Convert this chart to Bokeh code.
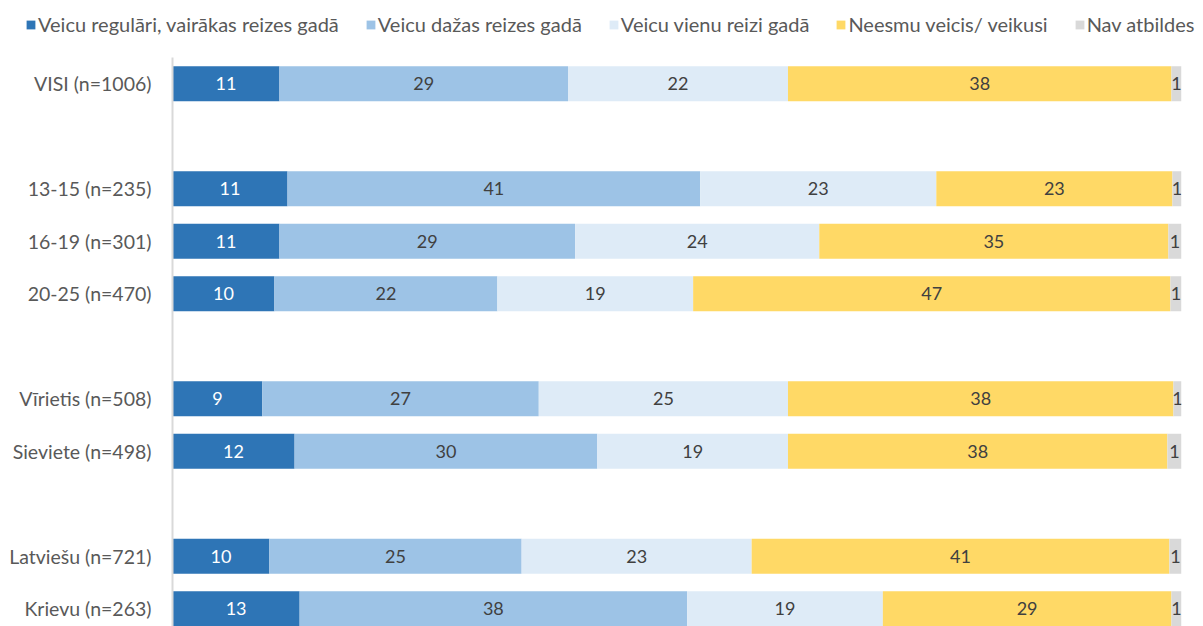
from bokeh.plotting import figure
from bokeh.models import ColumnDataSource, Range1d, Legend, LegendItem, FixedTicker
from bokeh.layouts import column
from bokeh.core.properties import value
from bokeh.embed import file_html
from bokeh.resources import INLINE
import numpy as np

categories = ["VISI (n=1006)", "13-15 (n=235)", "16-19 (n=301)", "20-25 (n=470)",
              "Vīrietis (n=508)", "Sieviete (n=498)", "Latviešu (n=721)", "Krievu (n=263)"]
series_names = ["Veicu regulāri, vairākas reizes gadā", "Veicu dažas reizes gadā",
                "Veicu vienu reizi gadā", "Neesmu veicis/ veikusi", "Nav atbildes"]
regulari = [10.6, 11.4, 10.6, 10.1, 8.9, 12.1, 9.6, 12.6]
dazas = [28.6, 40.9, 29.3, 22.1, 27.4, 30.0, 25.0, 38.4]
vienu = [21.8, 23.4, 24.2, 19.4, 24.7, 18.9, 22.8, 19.4]
neesmu = [38.0, 23.4, 34.6, 47.3, 38.2, 37.6, 41.4, 28.6]
nav = [1.0, 0.9, 1.3, 1.1, 0.8, 1.4, 1.2, 1.0]

colors = ["#2E75B6", "#9DC3E6", "#DEEBF7", "#FFD966", "#D9D9D9"]
label_colors = ["#FFFFFF", "#404040", "#404040", "#404040", "#404040"]
slots = [0, 2, 3, 4, 6, 7, 9, 10]

FONT = "Lato"
W = 1198

# ---- legend strip ----
pl = figure(width=W, height=57, x_range=Range1d(0, 1), y_range=Range1d(0, 1),
            output_backend="svg", toolbar_location=None, min_border=0)
pl.frame_align = False
pl.outline_line_color = None
pl.axis.visible = False
pl.grid.visible = False
dummy = [pl.hbar(y=[5], left=[5], right=[6], height=1, fill_color=c, line_color=None)
         for c in colors]
items = [LegendItem(label=n, renderers=[r]) for n, r in zip(series_names, dummy)]
legend = Legend(items=items, orientation="horizontal", location=(25, 21),
                glyph_width=11, glyph_height=11, label_standoff=2, spacing=26,
                padding=0, margin=0, border_line_color=None, background_fill_alpha=0,
                label_height=20,
                label_text_font=FONT, label_text_font_size="20px",
                label_text_color="#595959")
pl.add_layout(legend, "center")

# ---- main chart ----
p = figure(width=W, height=569, x_range=Range1d(0, 100), y_range=Range1d(10.34, -0.5),
           output_backend="svg", toolbar_location=None,
           min_border_left=172, min_border_right=17, min_border_top=0, min_border_bottom=0)
p.frame_align = False
p.outline_line_color = None
p.xgrid.visible = False
p.ygrid.visible = False
p.xaxis.visible = False

yaxis = p.yaxis[0]
yaxis.ticker = FixedTicker(ticks=slots)
yaxis.major_label_overrides = {s: c for s, c in zip(slots, categories)}
yaxis.major_tick_line_color = None
yaxis.minor_tick_line_color = None
yaxis.major_label_standoff = 15
yaxis.major_label_text_font = FONT
yaxis.major_label_text_font_size = "19.5px"
yaxis.major_label_text_color = "#595959"
yaxis.axis_line_color = "#D9D9D9"
yaxis.axis_line_width = 2

series = [regulari, dazas, vienu, neesmu, nav]
left = np.zeros(len(categories))
for vals, col, lcol in zip(series, colors, label_colors):
    v = np.array(vals, dtype=float)
    src = ColumnDataSource(dict(y=slots, left=left.copy(), right=left + v,
                                xc=left + v / 2, lab=[str(int(round(x))) for x in v]))
    p.hbar(y="y", left="left", right="right", height=0.667, source=src,
           fill_color=col, line_color=None)
    p.text(x="xc", y="y", text="lab", source=src, text_align="center",
           text_baseline="middle", text_font=value(FONT), text_font_size="18px",
           text_color=lcol)
    left = left + v

layout = column(pl, p, spacing=0)
open("out.html", "w").write(file_html(layout, INLINE))
